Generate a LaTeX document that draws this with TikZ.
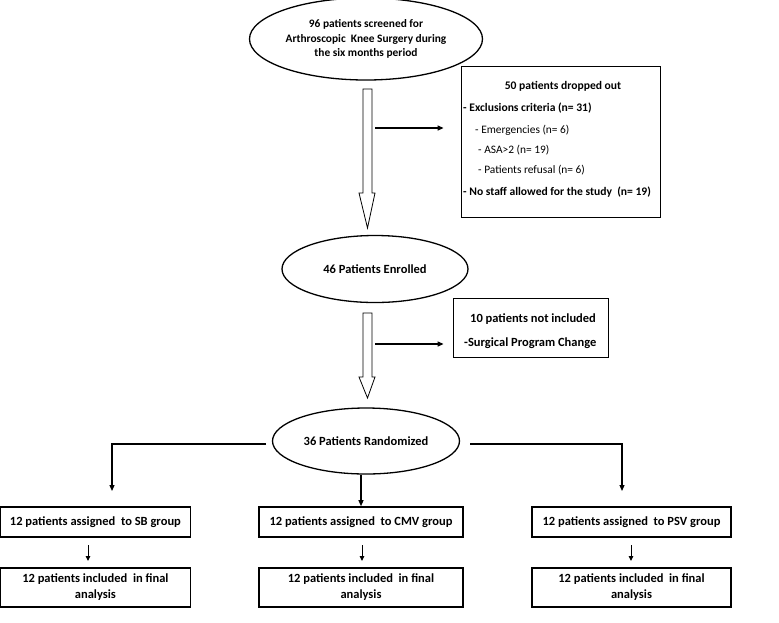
\documentclass[tikz,border=0pt]{standalone}
\usepackage{fontspec}
\setmainfont{Carlito}
\usetikzlibrary{arrows.meta,shapes.geometric,calc}
\begin{document}
\begin{tikzpicture}[x=1pt,y=-1pt,
  oval/.style={draw,line width=1.3pt,ellipse,inner sep=0pt,align=center,font=\fontsize{12.5}{14.5}\selectfont\bfseries},
  thinbox/.style={draw,line width=0.8pt,rectangle,inner sep=0pt},
  grpbox/.style={draw,line width=1.6pt,rectangle,inner sep=0pt,align=center,font=\fontsize{12.5}{16}\selectfont\bfseries},
  hollow/.style={draw,line width=0.8pt,fill=white},
  conn/.style={line width=1.2pt,-{Triangle[length=6pt,width=5pt]}},
  small/.style={line width=1pt,-{Triangle[length=5pt,width=4.5pt]}},
  bt/.style={anchor=base west,inner sep=0pt,font=\fontsize{11.6}{13}\selectfont\bfseries},
  st/.style={anchor=base west,inner sep=0pt,font=\fontsize{11.4}{13}\selectfont},
]
\useasboundingbox (0,0) rectangle (779,622);
\fill[white] (0,0) rectangle (779,622);

% ellipses
\node[oval,minimum width=233,minimum height=82,font=\fontsize{11.4}{14.5}\selectfont\bfseries] (e1) at (366,39)
  {96 patients screened for\\Arthroscopic\ \ Knee Surgery during\\the six months period};
\node[oval,minimum width=186,minimum height=67] (e2) at (375,269) {46 Patients Enrolled};
\node[oval,minimum width=187,minimum height=66] (e3) at (366,441) {36 Patients Randomized};

% hollow arrows
\draw[hollow] (363,89) -- (372,89) -- (372,193) -- (375,193) -- (367.5,228) -- (359,193) -- (363,193) -- cycle;
\draw[hollow] (363,313) -- (372,313) -- (372,377) -- (375,377) -- (367.5,398) -- (359,377) -- (363,377) -- cycle;

% box 1
\node[thinbox,minimum width=199,minimum height=151] (b1) at (560.5,141.5) {};
\node[bt,anchor=base] (b1t) at (563,89.5) {50 patients dropped out};
\node[bt] (b1a) at (463,111.5) {- Exclusions criteria (n= 31)};
\node[st] (b1b) at (475,133) {- Emergencies (n= 6)};
\node[st] (b1c) at (478,153) {- ASA>2 (n= 19)};
\node[st] (b1d) at (478,173.5) {- Patients refusal (n= 6)};
\node[bt] (b1e) at (463,195) {- No staff allowed for the study\ \ (n= 19)};

% box 2
\node[thinbox,minimum width=155,minimum height=59] (b2) at (530.5,327.5) {};
\node[bt,font=\fontsize{12.5}{14}\selectfont\bfseries] (b2a) at (470,322) {10 patients not included};
\node[bt,font=\fontsize{12.5}{14}\selectfont\bfseries] (b2b) at (464,346) {-Surgical Program Change};

% side arrows
\coordinate (s1) at (375,128);
\coordinate (s2) at (375,344);
\draw[conn] (s1) -- (b1.west |- s1) [shorten >=17pt];
\draw[conn] (s2) -- (b2.west |- s2) [shorten >=9pt];

% group boxes
\node[grpbox,minimum width=190,minimum height=30] (g1) at (95.4,522) {12 patients assigned\ \ to SB group};
\node[grpbox,minimum width=204,minimum height=30] (g2) at (361,522) {12 patients assigned\ \ to CMV group};
\node[grpbox,minimum width=199,minimum height=30] (g3) at (631.5,522) {12 patients assigned\ \ to PSV group};
\node[grpbox,minimum width=190,minimum height=39] (f1) at (95.4,587.5) {12 patients included\ \ in final\\analysis};
\node[grpbox,minimum width=204,minimum height=39] (f2) at (361,587.5) {12 patients included\ \ in final\\analysis};
\node[grpbox,minimum width=199,minimum height=39] (f3) at (631.5,587.5) {12 patients included\ \ in final\\analysis};

% randomization connectors
\coordinate (la) at (266,444);
\coordinate (lb) at (112,444);
\coordinate (lc) at (112,491);
\coordinate (ra) at (470,444);
\coordinate (rb) at (622,444);
\coordinate (rc) at (622,491);
\draw[conn] (la) -- (lb) -- (lc);
\draw[conn] (ra) -- (rb) -- (rc);
\draw[conn] (g2.north |- e3.south) -- (g2.north);

% small arrows
\coordinate (p1) at (88,545);
\coordinate (q1) at (88,561);
\coordinate (p2) at (362,545);
\coordinate (q2) at (362,561);
\coordinate (p3) at (631,545);
\coordinate (q3) at (631,561);
\draw[small] (p1) -- (q1);
\draw[small] (p2) -- (q2);
\draw[small] (p3) -- (q3);
\end{tikzpicture}
\end{document}
